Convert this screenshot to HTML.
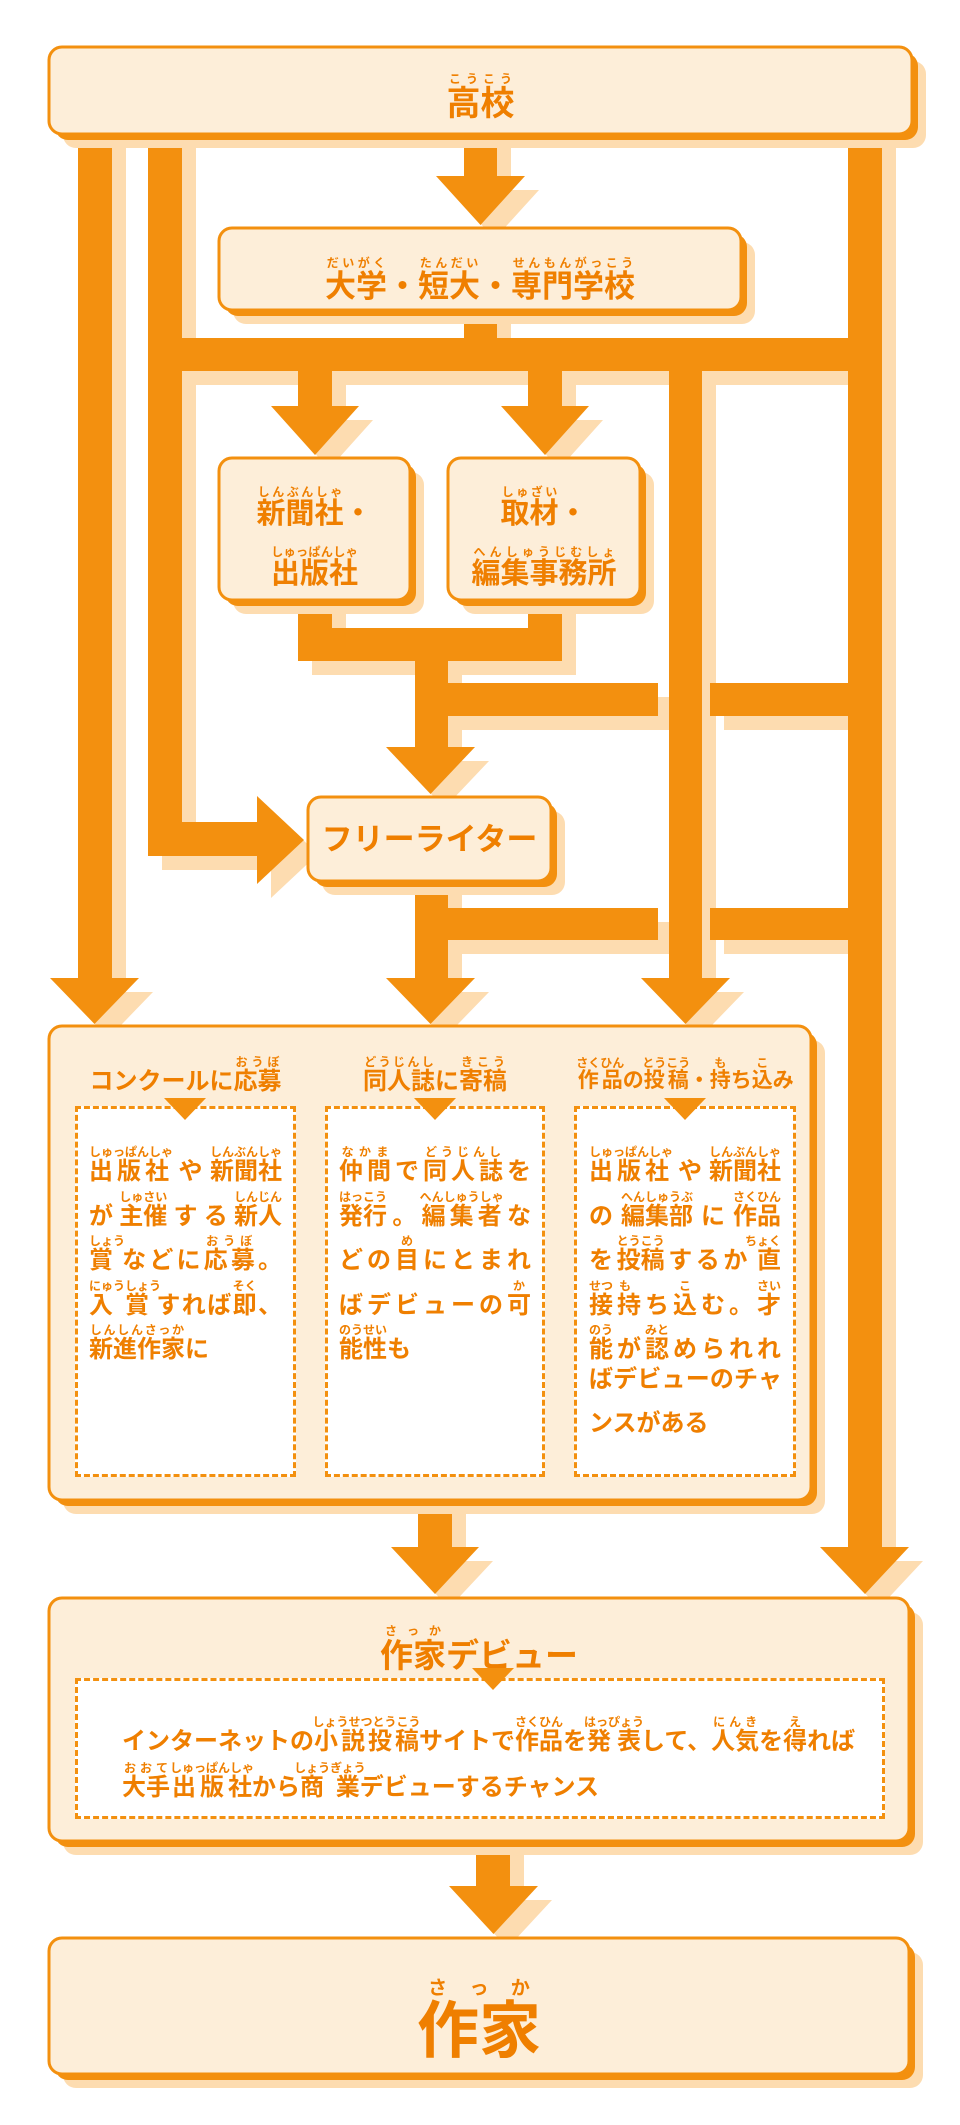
<!DOCTYPE html>
<html><head><meta charset="utf-8">
<style>
body{margin:0;width:960px;height:2125px;background:#fff;position:relative;overflow:hidden;font-family:"Liberation Sans","Noto Sans CJK JP",sans-serif;font-weight:bold;color:#ef7f00}
svg{position:absolute;left:0;top:0}
.t{position:absolute;text-align:center;white-space:nowrap;line-height:1}
rt{font-size:12px;line-height:1;font-weight:bold}
.l{position:absolute;font-size:24px;line-height:24px;height:24px;white-space:nowrap;text-align:justify;text-align-last:justify}
.n{text-align-last:left}
.d{position:absolute;border:3px dashed #f3900f;background:#fff;box-sizing:border-box}
.tri{position:absolute;width:0;height:0;border-left:21px solid transparent;border-right:21px solid transparent;border-top:22px solid #f3900f}
</style></head><body>
<svg width="960" height="2125">
<defs>
<g id="s">
<rect x="78" y="134" width="34" height="845"/><polygon points="50,978 139,978 94.5,1024"/>
<rect x="148" y="134" width="34" height="722"/><rect x="148" y="822" width="110" height="34"/><polygon points="257,796 304,840 257,884"/>
<rect x="848" y="134" width="34" height="1414"/><polygon points="820,1547 909,1547 865,1594"/>
<rect x="464" y="134" width="33" height="43"/><polygon points="436,176 525,176 480.5,225"/>
<rect x="464" y="305" width="33" height="40"/>
<rect x="182" y="338" width="700" height="33"/>
<rect x="298" y="371" width="34" height="36"/><polygon points="271,406 359,406 315,455"/>
<rect x="528" y="371" width="34" height="36"/><polygon points="501,406 589,406 545,455"/>
<rect x="669" y="371" width="33" height="608"/><polygon points="641,978 730,978 685.5,1024"/>
<rect x="298" y="595" width="34" height="66"/><rect x="528" y="595" width="34" height="66"/>
<rect x="298" y="628" width="264" height="33"/>
<rect x="415" y="661" width="33" height="87"/><polygon points="386,747 475,747 430.5,794"/>
<rect x="415" y="683" width="243" height="33"/><rect x="710" y="683" width="138" height="33"/>
<rect x="415" y="876" width="33" height="103"/><polygon points="386,978 475,978 430.5,1024"/>
<rect x="448" y="908" width="210" height="32"/><rect x="710" y="908" width="138" height="32"/>
<rect x="418" y="1495" width="34" height="53"/><polygon points="391,1547 479,1547 435,1594"/>
<rect x="476" y="1836" width="34" height="51"/><polygon points="449,1886 538,1886 493.5,1934"/>
</g>
<g id="b">
<rect x="49" y="47" width="863" height="87" rx="13"/>
<rect x="219" y="228" width="522" height="82" rx="13"/>
<rect x="219" y="458" width="191" height="142" rx="13"/>
<rect x="448" y="458" width="192" height="142" rx="13"/>
<rect x="308" y="797" width="243" height="84" rx="13"/>
<rect x="49" y="1026" width="762" height="474" rx="13"/>
<rect x="49" y="1598" width="860" height="243" rx="13"/>
<rect x="49" y="1938" width="860" height="136" rx="13"/>
</g>
</defs>
<use href="#s" x="14" y="14" fill="#fddcb0"/>
<use href="#s" fill="#f3900f"/>
<use href="#b" x="14" y="14" fill="#fddcb0"/>
<use href="#b" x="6" y="6" fill="#f3900f"/>
<use href="#b" fill="#fdeed9" stroke="#f3900f" stroke-width="3"/>
</svg>

<div class="t" style="left:49px;width:863px;top:72px;font-size:34px"><ruby>高校<rt>こうこう</rt></ruby></div>
<div class="t" style="left:219px;width:522px;top:256px;font-size:31px"><ruby>大学<rt>だいがく</rt></ruby>・<ruby>短大<rt>たんだい</rt></ruby>・<ruby>専門学校<rt>せんもんがっこう</rt></ruby></div>
<div class="t" style="left:219px;width:191px;top:485px;font-size:29px"><ruby>新聞社<rt>しんぶんしゃ</rt></ruby>・</div>
<div class="t" style="left:219px;width:191px;top:545px;font-size:29px"><ruby>出版社<rt>しゅっぱんしゃ</rt></ruby></div>
<div class="t" style="left:448px;width:192px;top:485px;font-size:29px"><ruby>取材<rt>しゅざい</rt></ruby>・</div>
<div class="t" style="left:448px;width:192px;top:545px;font-size:29px"><ruby>編集事務所<rt>へんしゅうじむしょ</rt></ruby></div>
<div class="t" style="left:308px;width:243px;top:824px;font-size:31px">フリーライター</div>

<div class="t" style="left:75px;width:221px;top:1055px;font-size:24px">コンクールに<ruby>応募<rt>おうぼ</rt></ruby></div>
<div class="t" style="left:325px;width:220px;top:1055px;font-size:24px"><ruby>同人誌<rt>どうじんし</rt></ruby>に<ruby>寄稿<rt>きこう</rt></ruby></div>
<div class="t" style="left:574px;width:222px;top:1056px;font-size:21px"><ruby>作品<rt>さくひん</rt></ruby>の<ruby>投稿<rt>とうこう</rt></ruby>・<ruby>持<rt>も</rt></ruby>ち<ruby>込<rt>こ</rt></ruby>み</div>

<div class="d" style="left:75px;top:1106px;width:221px;height:371px"></div>
<div class="d" style="left:325px;top:1106px;width:220px;height:371px"></div>
<div class="d" style="left:574px;top:1106px;width:222px;height:371px"></div>
<div class="tri" style="left:164px;top:1098px"></div>
<div class="tri" style="left:414px;top:1098px"></div>
<div class="tri" style="left:664px;top:1098px"></div>

<div class="l" style="left:89px;width:193px;top:1145px"><ruby>出版社<rt>しゅっぱんしゃ</rt></ruby>や<ruby>新聞社<rt>しんぶんしゃ</rt></ruby></div>
<div class="l" style="left:89px;width:193px;top:1190px">が<ruby>主催<rt>しゅさい</rt></ruby>する<ruby>新人<rt>しんじん</rt></ruby></div>
<div class="l" style="left:89px;width:193px;top:1234px"><ruby>賞<rt>しょう</rt></ruby>などに<ruby>応募<rt>おうぼ</rt></ruby>。</div>
<div class="l" style="left:89px;width:193px;top:1279px"><ruby>入賞<rt>にゅうしょう</rt></ruby>すれば<ruby>即<rt>そく</rt></ruby>、</div>
<div class="l n" style="left:89px;width:193px;top:1323px"><ruby>新進作家<rt>しんしんさっか</rt></ruby>に</div>

<div class="l" style="left:339px;width:192px;top:1145px"><ruby>仲間<rt>なかま</rt></ruby>で<ruby>同人誌<rt>どうじんし</rt></ruby>を</div>
<div class="l" style="left:339px;width:192px;top:1190px"><ruby>発行<rt>はっこう</rt></ruby>。<ruby>編集者<rt>へんしゅうしゃ</rt></ruby>な</div>
<div class="l" style="left:339px;width:192px;top:1234px">どの<ruby>目<rt>め</rt></ruby>にとまれ</div>
<div class="l" style="left:339px;width:192px;top:1279px">ばデビューの<ruby>可<rt>か</rt></ruby></div>
<div class="l n" style="left:339px;width:192px;top:1323px"><ruby>能性<rt>のうせい</rt></ruby>も</div>

<div class="l" style="left:589px;width:192px;top:1145px"><ruby>出版社<rt>しゅっぱんしゃ</rt></ruby>や<ruby>新聞社<rt>しんぶんしゃ</rt></ruby></div>
<div class="l" style="left:589px;width:192px;top:1190px">の<ruby>編集部<rt>へんしゅうぶ</rt></ruby>に<ruby>作品<rt>さくひん</rt></ruby></div>
<div class="l" style="left:589px;width:192px;top:1234px">を<ruby>投稿<rt>とうこう</rt></ruby>するか<ruby>直<rt>ちょく</rt></ruby></div>
<div class="l" style="left:589px;width:192px;top:1279px"><ruby>接<rt>せつ</rt></ruby><ruby>持<rt>も</rt></ruby>ち<ruby>込<rt>こ</rt></ruby>む。<ruby>才<rt>さい</rt></ruby></div>
<div class="l" style="left:589px;width:192px;top:1323px"><ruby>能<rt>のう</rt></ruby>が<ruby>認<rt>みと</rt></ruby>められれ</div>
<div class="l" style="left:589px;width:192px;top:1368px;letter-spacing:-1px">ばデビューのチャ</div>
<div class="l n" style="left:589px;width:192px;top:1412px">ンスがある</div>

<div class="t" style="left:49px;width:860px;top:1624px;font-size:33px"><ruby>作家<rt>さっか</rt></ruby>デビュー</div>
<div class="d" style="left:75px;top:1678px;width:810px;height:141px"></div>
<div class="tri" style="left:472px;top:1668px"></div>
<div class="l n" style="left:122px;top:1715px;width:730px;letter-spacing:0px">インターネットの<ruby>小説投稿<rt>しょうせつとうこう</rt></ruby>サイトで<ruby>作品<rt>さくひん</rt></ruby>を<ruby>発表<rt>はっぴょう</rt></ruby>して、<ruby>人気<rt>にんき</rt></ruby>を<ruby>得<rt>え</rt></ruby>れば</div>
<div class="l n" style="left:122px;top:1761px;width:730px;letter-spacing:0px"><ruby>大手<rt>おおて</rt></ruby><ruby>出版社<rt>しゅっぱんしゃ</rt></ruby>から<ruby>商業<rt>しょうぎょう</rt></ruby>デビューするチャンス</div>

<div class="t" style="left:49px;width:860px;top:1978px;font-size:62px"><ruby>作家<rt style="font-size:19px">さっか</rt></ruby></div>
</body></html>
